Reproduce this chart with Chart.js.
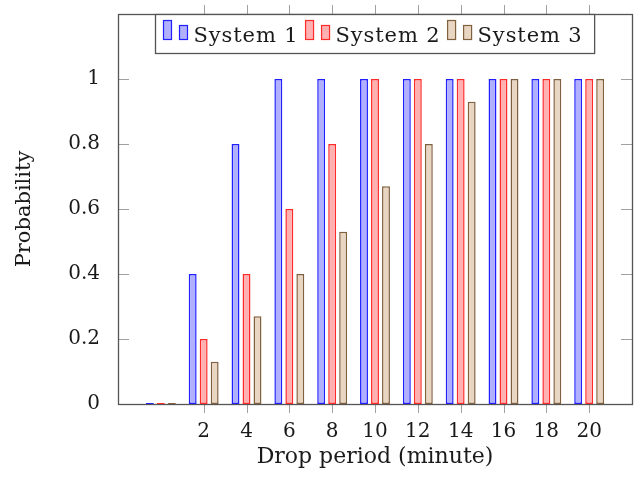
<!DOCTYPE html>
<html><head><meta charset="utf-8">
<script src="https://cdn.jsdelivr.net/npm/chart.js@4.4.1/dist/chart.umd.min.js"></script>
<style>html,body{margin:0;padding:0;background:#fff}#wrap{width:636px;height:477px}</style>
</head><body><div id="wrap"><canvas id="c" width="636" height="477"></canvas></div>
<script>
const periods = [0, 2, 4, 6, 8, 10, 12, 14, 16, 18, 20];
const system1 = [0, 0.4, 0.8, 1, 1, 1, 1, 1, 1, 1, 1];
const system2 = [0, 0.2, 0.4, 0.6, 0.8, 1, 1, 1, 1, 1, 1];
const system3 = [0, 0.13, 0.27, 0.4, 0.53, 0.67, 0.8, 0.93, 1, 1, 1];
const seriesNames = ['System 1', 'System 2', 'System 3'];
const xTickValues = [2, 4, 6, 8, 10, 12, 14, 16, 18, 20];
const xTickLabels = ['2', '4', '6', '8', '10', '12', '14', '16', '18', '20'];
const yTickValues = [0, 0.2, 0.4, 0.6, 0.8, 1];
const yTickLabels = ['0', '0.2', '0.4', '0.6', '0.8', '1'];

const FONT = '"DejaVu Serif", serif';
const strokeCols = ['#2020ff', '#ff2a2a', '#80603f'];
const fillCols = ['#b0b0ff', '#ffb0b0', '#e8d6c2'];
const TEXT = '#1a1a1a';
const FRAME = '#555555';
const TICK = '#a0a0a0';

function toPoints(vals) { return periods.map((p, i) => ({ x: p, y: vals[i] })); }
const seriesVals = [system1, system2, system3];

const framePlugin = {
  id: 'frame',
  beforeDatasetsDraw(chart) {
    const { ctx, chartArea: a, scales } = chart;
    ctx.save();
    ctx.strokeStyle = TICK; ctx.lineWidth = 1;
    ctx.beginPath();
    yTickValues.forEach(v => {
      const y = Math.round(scales.y.getPixelForValue(v)) + 0.5;
      ctx.moveTo(a.left, y); ctx.lineTo(a.left + 11, y);
      ctx.moveTo(a.right, y); ctx.lineTo(a.right - 11, y);
    });
    xTickValues.forEach(v => {
      const x = Math.round(scales.x.getPixelForValue(v)) + 0.5;
      ctx.moveTo(x, a.bottom); ctx.lineTo(x, a.bottom + 9);
      ctx.moveTo(x, a.top); ctx.lineTo(x, a.top - 9);
    });
    ctx.stroke();
    ctx.strokeStyle = FRAME; ctx.lineWidth = 1.3;
    ctx.strokeRect(Math.round(a.left) + 0.5, Math.round(a.top) + 0.5,
      Math.round(a.right - a.left), Math.round(a.bottom - a.top));
    ctx.restore();
  },
  afterDraw(chart) {
    const { ctx, chartArea: a } = chart;
    ctx.save();
    ctx.font = '21px ' + FONT;
    ctx.letterSpacing = '0.9px';
    const widths = seriesNames.map(n => ctx.measureText(n).width);
    const padL = 8, padR = 12, gap = 7, iconW = 30;
    let total = padL + padR + gap * (seriesNames.length - 1);
    widths.forEach(w => total += iconW + w);
    const cx = (a.left + a.right) / 2;
    const bx = Math.round(cx - total / 2) + 0.5;
    const by = Math.round(a.top) + 0.5;
    const bh = 39;
    ctx.fillStyle = '#fff';
    ctx.fillRect(bx, by, total, bh);
    ctx.strokeStyle = FRAME; ctx.lineWidth = 1.3;
    ctx.strokeRect(bx, by, total, bh);
    let x = bx + padL;
    seriesNames.forEach((n, i) => {
      ctx.lineWidth = 1.2;
      ctx.fillStyle = fillCols[i]; ctx.strokeStyle = strokeCols[i];
      ctx.fillRect(x, 20.5, 8, 19); ctx.strokeRect(x, 20.5, 8, 19);
      ctx.fillRect(x + 16, 25.5, 8, 14); ctx.strokeRect(x + 16, 25.5, 8, 14);
      ctx.fillStyle = TEXT; ctx.textBaseline = 'alphabetic'; ctx.textAlign = 'left';
      ctx.fillText(n, x + iconW, 42);
      x += iconW + widths[i] + gap;
    });
    ctx.restore();
  }
};

Chart.defaults.font.family = FONT;
Chart.defaults.font.size = 20;
Chart.defaults.color = TEXT;

new Chart(document.getElementById('c'), {
  type: 'bar',
  data: {
    datasets: seriesNames.map((n, i) => ({
      label: n,
      data: toPoints(seriesVals[i]),
      backgroundColor: fillCols[i],
      borderColor: strokeCols[i],
      borderWidth: 1.5,
      borderSkipped: false,
      inflateAmount: 0,
      minBarLength: 1,
      barPercentage: 0.72,
      categoryPercentage: 0.77
    }))
  },
  options: {
    responsive: false,
    animation: false,
    events: [],
    layout: { padding: { top: 14, right: 4, left: 0, bottom: 0 } },
    plugins: { legend: { display: false }, tooltip: { enabled: false } },
    scales: {
      x: {
        type: 'linear', min: -2, max: 22, offset: false,
        grid: { display: false }, border: { display: false },
        afterBuildTicks: s => { s.ticks = xTickValues.map(v => ({ value: v })); },
        afterFit: s => { s.height = 73; s.paddingLeft = 0; s.paddingRight = 0; },
        ticks: {
          autoSkip: false, maxRotation: 0, padding: 8,
          callback: (v) => xTickLabels[xTickValues.indexOf(v)]
        },
        title: { display: true, text: 'Drop period (minute)', font: { size: 22 }, padding: { top: 0, bottom: 7 } }
      },
      y: {
        min: 0, max: 1.2,
        grid: { display: false }, border: { display: false },
        afterBuildTicks: s => { s.ticks = yTickValues.map(v => ({ value: v })); },
        afterFit: s => { s.width = 118; s.paddingTop = 0; s.paddingBottom = 0; },
        ticks: {
          padding: 10,
          callback: (v) => yTickLabels[yTickValues.indexOf(v)]
        },
        title: { display: true, text: 'Probability', font: { size: 21 }, padding: { top: 12, bottom: 0 } }
      }
    }
  },
  plugins: [framePlugin]
});
</script></body></html>
